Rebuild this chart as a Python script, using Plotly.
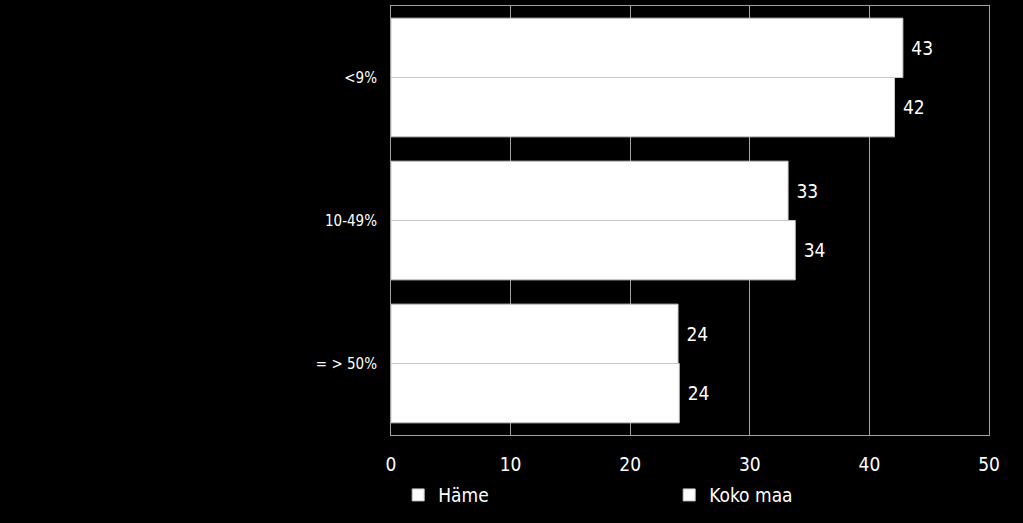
import plotly.graph_objects as go

categories = ['<9%', '10-49%', '= > 50%']
hame = [42.8, 33.2, 24.0]
koko_maa = [42.1, 33.8, 24.1]
x_ticks = [0, 10, 20, 30, 40, 50]

fig = go.Figure()
for name, vals in [('Häme', hame), ('Koko maa', koko_maa)]:
    fig.add_trace(go.Bar(
        y=categories, x=vals, name=name, orientation='h',
        marker=dict(color='white', line=dict(color='#c8c8c8', width=1)),
        text=[' ' + str(round(v)) for v in vals], textposition='outside',
        textfont=dict(color='white', size=19, family='DejaVu Sans Condensed'),
        cliponaxis=False,
    ))

fig.update_layout(
    width=1023, height=523,
    paper_bgcolor='black', plot_bgcolor='black',
    margin=dict(l=391, r=34, t=6, b=88),
    barmode='group', bargap=0.17, bargroupgap=0,
    font=dict(family='DejaVu Sans Condensed', color='white'),
    showlegend=True,
    legend=dict(orientation='h', x=0.012, y=-0.14, xanchor='left', yanchor='middle',
                entrywidth=226, entrywidthmode='pixels',
                font=dict(size=19, color='white'), itemwidth=30,
                bgcolor='rgba(0,0,0,0)'),
)
fig.update_xaxes(range=[0, 50], tickvals=x_ticks, showgrid=True, gridcolor='#a0a0a0',
                 gridwidth=1, showline=True, linecolor='#a0a0a0', mirror=True,
                 tickfont=dict(size=19, color='white'), zeroline=False,
                 ticks='outside', tickcolor='black', ticklen=12)
fig.update_yaxes(autorange='reversed', showline=True, linecolor='#a0a0a0', mirror=True,
                 tickfont=dict(size=15, color='white'), ticks='outside',
                 tickcolor='black', ticklen=10, showgrid=False)

fig.write_html('out.html', config={'displayModeBar': False},
               post_script="document.body.style.margin='0';"
                           "document.body.style.background='black';")
